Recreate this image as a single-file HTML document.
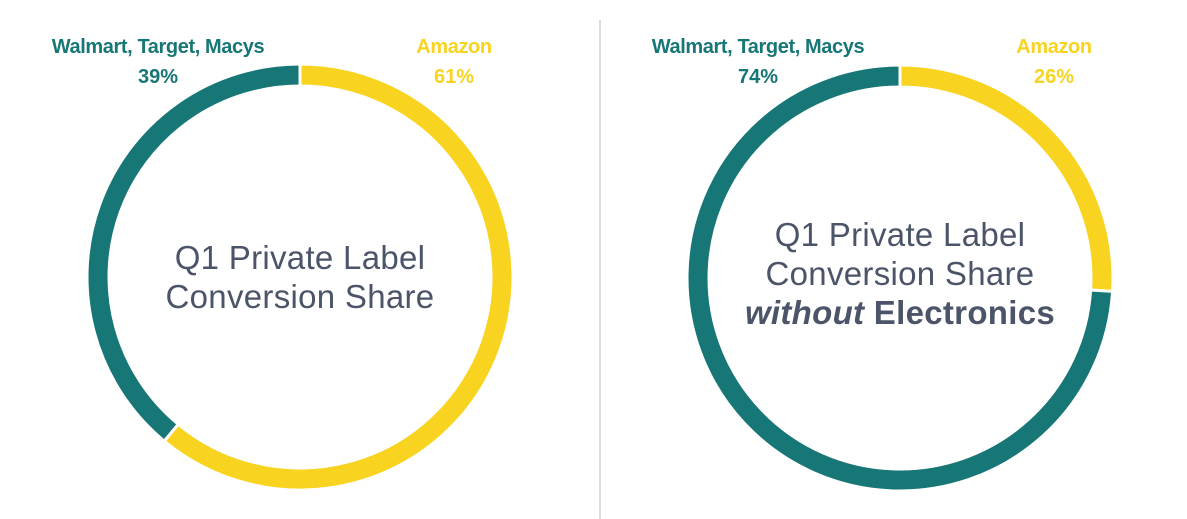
<!DOCTYPE html>
<html><head><meta charset="utf-8"><style>
body{margin:0;background:#fff;width:1187px;height:519px;overflow:hidden;font-family:"Liberation Sans",sans-serif}
svg{display:block}
</style></head><body>
<svg width="1187" height="519" viewBox="0 0 1187 519">
<line x1="600" y1="20" x2="600" y2="519" stroke="#dddddd" stroke-width="2"/>
<g id="charts"></g>
</svg>
<script>
const categories=["Amazon","Walmart, Target, Macys"];
const chart1Values=[61,39];
const chart2Values=[26,74];
const colors=["#f8d31f","#177676"];
const ns="http://www.w3.org/2000/svg";
const g=document.getElementById("charts");
function mk(t,a){const e=document.createElementNS(ns,t);for(const k in a)e.setAttribute(k,a[k]);return e;}
function pt(cx,cy,r,f){const a=f*2*Math.PI-Math.PI/2;return [cx+r*Math.cos(a),cy+r*Math.sin(a)];}
function donut(cx,cy,vals,idx,labels){
  const R=213,r=191,tot=vals.reduce((s,v)=>s+v,0);let acc=0;
  vals.forEach((v,i)=>{
    const f0=acc/tot,f1=(acc+v)/tot;acc+=v;
    const large=(f1-f0)>0.5?1:0;
    const [x0,y0]=pt(cx,cy,R,f0),[x1,y1]=pt(cx,cy,R,f1),[x2,y2]=pt(cx,cy,r,f1),[x3,y3]=pt(cx,cy,r,f0);
    const p=mk("path",{d:`M${x0},${y0}A${R},${R} 0 ${large} 1 ${x1},${y1}L${x2},${y2}A${r},${r} 0 ${large} 0 ${x3},${y3}Z`,fill:colors[i],stroke:"#fff","stroke-width":3});
    
    
    g.appendChild(p);
  });
  const lx=[cx-142,cx+154];
  [1,0].forEach((i,k)=>{
    const x=i===1?lx[0]:lx[1];
    const t=mk("text",{x:x,y:53,"text-anchor":"middle",fill:colors[i],"font-size":20,"font-weight":"bold","letter-spacing":"-0.4"});
    t.textContent=categories[i];
    
    
    g.appendChild(t);
    const p=mk("text",{x:x,y:83,"text-anchor":"middle",fill:colors[i],"font-size":20,"font-weight":"bold"});
    p.textContent=vals[i]+"%";
    
    
    g.appendChild(p);
  });
  labels.forEach((l,j)=>{
    const t=mk("text",{x:cx,y:l.y,"text-anchor":"middle",fill:"#4b5468","font-size":33,"letter-spacing":"0.3"});
    if(l.html){t.innerHTML=l.html;}else t.textContent=l.t;
    
    
    g.appendChild(t);
  });
}
donut(300,277,chart1Values,1,[{t:"Q1 Private Label",y:269},{t:"Conversion Share",y:308}]);
donut(900,278,chart2Values,2,[{t:"Q1 Private Label",y:246},{t:"Conversion Share",y:285},{html:'<tspan font-weight="bold" font-style="italic">without</tspan><tspan font-weight="bold"> Electronics</tspan>',y:324}]);
</script>
</body></html>
